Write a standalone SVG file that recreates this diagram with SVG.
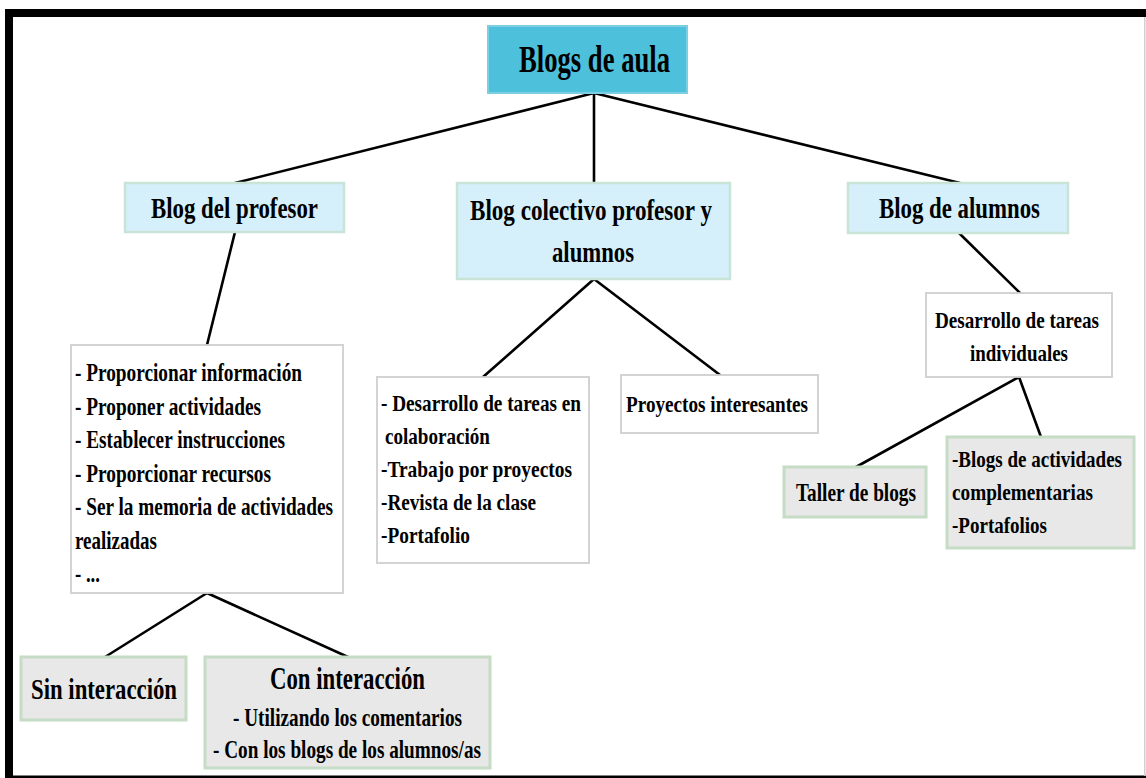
<svg xmlns="http://www.w3.org/2000/svg" width="1146" height="778" viewBox="0 0 1146 778">
<style>
text{font-family:"Liberation Serif","Times New Roman",serif;font-weight:bold;fill:#000;}
.root{fill:#4DC0DB;stroke:#7CCFE2;stroke-width:2;}
.blue{fill:#D5F0FA;stroke:#C9E3D6;stroke-width:2.5;}
.white{fill:#FFFFFF;stroke:#CFCFCF;stroke-width:1.8;}
.gray{fill:#E8E8E8;stroke:#C6DCC6;stroke-width:3;}
.c{text-anchor:middle;}
#connectors path{stroke:#000;stroke-width:2.6;fill:none;stroke-linecap:round;}
</style>
<rect x="0" y="0" width="1146" height="778" fill="#FFFFFF"/>
<g id="frame">
<rect x="5" y="9" width="1141" height="8" fill="#000"/>
<rect x="5" y="9" width="8" height="769" fill="#000"/>
<rect x="5" y="775.5" width="1141" height="2.5" fill="#000"/>
<rect x="1144" y="17" width="1.5" height="759" fill="#D0D0D0"/>
</g>
<g id="connectors">
<path d="M594,93 L235,183"/>
<path d="M594,93 L594,183"/>
<path d="M594,93 L960,183"/>
<path d="M235,232 L207,345"/>
<path d="M594,279 L483,377"/>
<path d="M594,279 L720,375"/>
<path d="M959,233 L1020,293"/>
<path d="M207,593 L105,657"/>
<path d="M207,593 L348,657"/>
<path d="M1019,377 L856,467"/>
<path d="M1019,377 L1041,437"/>
</g>
<g id="root">
<rect class="root" x="488" y="26" width="199" height="67"/>
<text class="c" x="594.5" y="72" font-size="37" textLength="151" lengthAdjust="spacingAndGlyphs">Blogs de aula</text>
</g>
<g id="blog-profesor">
<rect class="blue" x="125" y="183" width="219" height="49"/>
<text class="c" x="234.5" y="218" font-size="30" textLength="167" lengthAdjust="spacingAndGlyphs">Blog del profesor</text>
</g>
<g id="blog-colectivo">
<rect class="blue" x="457" y="183" width="273" height="96"/>
<text class="c" x="591" y="220" font-size="30" textLength="242" lengthAdjust="spacingAndGlyphs">Blog colectivo profesor y</text>
<text class="c" x="593" y="262" font-size="30" textLength="82" lengthAdjust="spacingAndGlyphs">alumnos</text>
</g>
<g id="blog-alumnos">
<rect class="blue" x="848" y="183" width="220" height="50"/>
<text class="c" x="959.5" y="218" font-size="30" textLength="161" lengthAdjust="spacingAndGlyphs">Blog de alumnos</text>
</g>
<g id="funciones-profesor">
<rect class="white" x="71" y="345" width="272" height="248"/>
<text x="75" y="381" font-size="25" textLength="227" lengthAdjust="spacingAndGlyphs">- Proporcionar información</text>
<text x="75" y="415" font-size="25" textLength="186" lengthAdjust="spacingAndGlyphs">- Proponer actividades</text>
<text x="75" y="448" font-size="25" textLength="210" lengthAdjust="spacingAndGlyphs">- Establecer instrucciones</text>
<text x="75" y="482" font-size="25" textLength="196" lengthAdjust="spacingAndGlyphs">- Proporcionar recursos</text>
<text x="75" y="515" font-size="25" textLength="258" lengthAdjust="spacingAndGlyphs">- Ser la memoria de actividades</text>
<text x="75" y="549" font-size="25" textLength="82" lengthAdjust="spacingAndGlyphs">realizadas</text>
<text x="75" y="582" font-size="25" textLength="25" lengthAdjust="spacingAndGlyphs">- ...</text>
</g>
<g id="colaboracion">
<rect class="white" x="377" y="377" width="212" height="186"/>
<text x="381" y="411" font-size="24" textLength="200" lengthAdjust="spacingAndGlyphs">- Desarrollo de tareas en</text>
<text x="385" y="444" font-size="24" textLength="105" lengthAdjust="spacingAndGlyphs">colaboración</text>
<text x="381" y="477" font-size="24" textLength="191" lengthAdjust="spacingAndGlyphs">-Trabajo por proyectos</text>
<text x="381" y="510" font-size="24" textLength="155" lengthAdjust="spacingAndGlyphs">-Revista de la clase</text>
<text x="381" y="543" font-size="24" textLength="89" lengthAdjust="spacingAndGlyphs">-Portafolio</text>
</g>
<g id="proyectos">
<rect class="white" x="621" y="375" width="197" height="58"/>
<text x="626" y="412" font-size="24" textLength="182" lengthAdjust="spacingAndGlyphs">Proyectos interesantes</text>
</g>
<g id="individuales">
<rect class="white" x="926" y="293" width="186" height="84"/>
<text class="c" x="1017" y="328" font-size="24" textLength="164" lengthAdjust="spacingAndGlyphs">Desarrollo de tareas</text>
<text class="c" x="1019" y="361" font-size="24" textLength="98" lengthAdjust="spacingAndGlyphs">individuales</text>
</g>
<g id="taller">
<rect class="gray" x="784" y="467" width="142" height="50"/>
<text x="796" y="501" font-size="25" textLength="120" lengthAdjust="spacingAndGlyphs">Taller de blogs</text>
</g>
<g id="actividades">
<rect class="gray" x="947" y="437" width="187" height="111"/>
<text x="952" y="467" font-size="24" textLength="170" lengthAdjust="spacingAndGlyphs">-Blogs de actividades</text>
<text x="952" y="500" font-size="24" textLength="141" lengthAdjust="spacingAndGlyphs">complementarias</text>
<text x="952" y="533" font-size="24" textLength="95" lengthAdjust="spacingAndGlyphs">-Portafolios</text>
</g>
<g id="sin-interaccion">
<rect class="gray" x="21" y="657" width="165" height="63"/>
<text x="31" y="699" font-size="30" textLength="146" lengthAdjust="spacingAndGlyphs">Sin interacción</text>
</g>
<g id="con-interaccion">
<rect class="gray" x="205" y="657" width="285" height="111"/>
<text class="c" x="347.5" y="689" font-size="32" textLength="155" lengthAdjust="spacingAndGlyphs">Con interacción</text>
<text x="233" y="726" font-size="25" textLength="229" lengthAdjust="spacingAndGlyphs">- Utilizando los comentarios</text>
<text x="213" y="758" font-size="25" textLength="268" lengthAdjust="spacingAndGlyphs">- Con los blogs de los alumnos/as</text>
</g>
</svg>
